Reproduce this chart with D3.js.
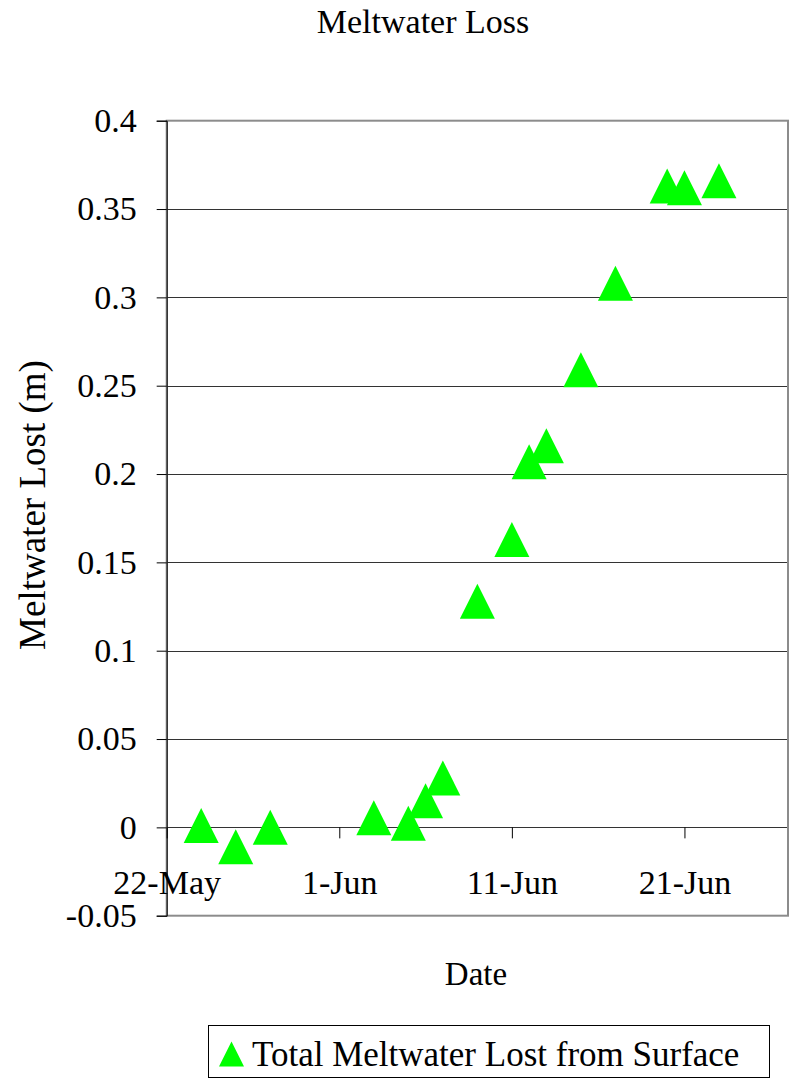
<!DOCTYPE html>
<html lang="en">
<head>
  <meta charset="UTF-8">
  <title>Meltwater Loss</title>
  <script src="https://d3js.org/d3.v7.min.js"></script>
  <style>
    body { margin: 0; background: #fff; }
  </style>
</head>
<body>
<script>
  // data
  const dates = ['2003-05-24', '2003-05-26', '2003-05-28', '2003-06-03', '2003-06-05', '2003-06-06',
                 '2003-06-07', '2003-06-09', '2003-06-11', '2003-06-12', '2003-06-13', '2003-06-15',
                 '2003-06-17', '2003-06-20', '2003-06-21', '2003-06-23'];
  const values = [0.001, -0.011, 0.000, 0.0055, 0.0024, 0.015, 0.028, 0.128, 0.163, 0.207,
                  0.216, 0.259, 0.308, 0.363, 0.362, 0.366];
  const yTicks = [-0.05, 0, 0.05, 0.1, 0.15, 0.2, 0.25, 0.3, 0.35, 0.4];
  const xTicks = ['2003-05-22', '2003-06-01', '2003-06-11', '2003-06-21'];
  const xDomain = ['2003-05-22', '2003-06-27'];
  const seriesName = 'Total Meltwater Lost from Surface';

  const W = 798, H = 1081;
  const plotL = 166.7, plotR = 788, plotT = 120.7, plotB = 915.7;
  const green = '#00ff00';
  const serif = "'Liberation Serif', 'Times New Roman', serif";
  const parse = d3.timeParse('%Y-%m-%d');

  const svg = d3.select('body').append('svg').attr('width', W).attr('height', H)
    .attr('font-family', serif);

  const x = d3.scaleTime().domain(xDomain.map(parse)).range([plotL, plotR]);
  const y = d3.scaleLinear().domain([-0.05, 0.4]).range([plotB, plotT]);

  // gridlines
  svg.append('g').selectAll('line')
    .data(yTicks.filter(d => d > -0.05 && d < 0.4))
    .enter().append('line')
    .attr('x1', plotL).attr('x2', plotR)
    .attr('y1', d => Math.round(y(d)) + 0.5).attr('y2', d => Math.round(y(d)) + 0.5)
    .attr('stroke', '#333').attr('stroke-width', 1);

  // plot border (grey)
  svg.append('rect')
    .attr('x', plotL).attr('y', plotT)
    .attr('width', plotR - plotL).attr('height', plotB - plotT)
    .attr('fill', 'none').attr('stroke', '#8c8c8c').attr('stroke-width', 2);

  // y axis
  const yAxis = svg.append('g')
    .attr('transform', `translate(${plotL},0)`)
    .call(d3.axisLeft(y).tickValues(yTicks).tickSize(10).tickPadding(20)
      .tickFormat(d => String(+d.toFixed(2))));
  yAxis.attr('font-family', serif).attr('font-size', 34);
  yAxis.select('.domain').attr('stroke', '#000');

  // x axis sits on zero
  const xAxis = svg.append('g')
    .attr('transform', `translate(0,${y(0)})`)
    .call(d3.axisBottom(x).tickValues(xTicks.map(parse)).tickSize(11).tickPadding(32)
      .tickFormat(d3.timeFormat('%-d-%b')));
  xAxis.attr('font-family', serif).attr('font-size', 34);
  xAxis.select('.domain').remove();
  xAxis.selectAll('line').attr('stroke', '#000');

  // triangle markers
  const tri = (cx, cy, s) => `M${cx},${cy - s / 2}L${cx + s / 2},${cy + s / 2}L${cx - s / 2},${cy + s / 2}Z`;
  svg.append('g').selectAll('path')
    .data(dates.map((d, i) => ({ date: parse(d), value: values[i] })))
    .enter().append('path')
    .attr('d', d => tri(x(d.date), y(d.value), 35))
    .attr('fill', green);

  // titles
  svg.append('text')
    .attr('x', 423).attr('y', 33)
    .attr('text-anchor', 'middle')
    .attr('font-size', 34)
    .text('Meltwater Loss');

  svg.append('text')
    .attr('x', 476).attr('y', 985)
    .attr('text-anchor', 'middle')
    .attr('font-size', 33)
    .text('Date');

  svg.append('text')
    .attr('transform', 'translate(45,505) rotate(-90)')
    .attr('text-anchor', 'middle')
    .attr('font-size', 37)
    .text('Meltwater Lost (m)');

  // legend
  const lg = svg.append('g');
  lg.append('rect')
    .attr('x', 208.5).attr('y', 1025.5)
    .attr('width', 561).attr('height', 52)
    .attr('fill', '#fff').attr('stroke', '#000').attr('stroke-width', 1);
  lg.append('path').attr('d', tri(231.5, 1054, 25)).attr('fill', green);
  lg.append('text')
    .attr('x', 252).attr('y', 1065.5)
    .attr('font-size', 35)
    .text(seriesName);
</script>
</body>
</html>
